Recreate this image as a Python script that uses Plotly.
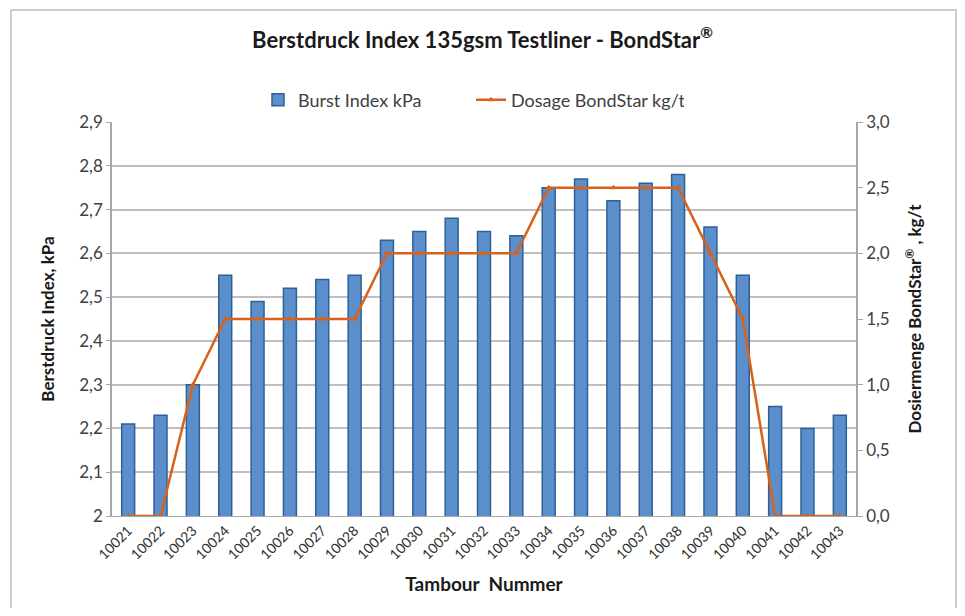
import plotly.graph_objects as go

categories = ["10021", "10022", "10023", "10024", "10025", "10026", "10027", "10028",
              "10029", "10030", "10031", "10032", "10033", "10034", "10035", "10036",
              "10037", "10038", "10039", "10040", "10041", "10042", "10043"]
burst_index = [2.21, 2.23, 2.30, 2.55, 2.49, 2.52, 2.54, 2.55, 2.63, 2.65, 2.68, 2.65,
               2.64, 2.75, 2.77, 2.72, 2.76, 2.78, 2.66, 2.55, 2.25, 2.20, 2.23]
dosage = [0.0, 0.0, 1.0, 1.5, 1.5, 1.5, 1.5, 1.5, 2.0, 2.0, 2.0, 2.0, 2.0,
          2.5, 2.5, 2.5, 2.5, 2.5, 2.0, 1.5, 0.0, 0.0, 0.0]
left_ticks = [2.0, 2.1, 2.2, 2.3, 2.4, 2.5, 2.6, 2.7, 2.8, 2.9]
left_ticktext = ["2", "2,1", "2,2", "2,3", "2,4", "2,5", "2,6", "2,7", "2,8", "2,9"]
right_ticks = [0.0, 0.5, 1.0, 1.5, 2.0, 2.5, 3.0]

FONT = "Lato, 'Open Sans', sans-serif"
BLUE = "#5B8FCC"
BLUE_EDGE = "#2F5F98"
ORANGE = "#D9621A"

# page body has an 8px margin; figure sized to fit the window
OFF = 8
W, H = 949, 600
L, T = 112 - OFF, 122 - OFF
R = W - (856 - OFF)
B = H - (516 - OFF)
pw, ph = W - L - R, H - T - B

def px(s):
    return (s - OFF - L) / pw

def py(s):
    return (H - B - (s - OFF)) / ph

fig = go.Figure()
fig.add_trace(go.Bar(
    x=categories, y=burst_index, name="Burst Index kPa",
    marker=dict(color=BLUE, line=dict(color=BLUE_EDGE, width=1.5)),
    width=0.4, base=0,
))
fig.add_trace(go.Scatter(
    x=categories, y=dosage, name="Dosage BondStar kg/t", yaxis="y2",
    mode="lines+markers",
    line=dict(color=ORANGE, width=2.5),
    marker=dict(symbol="triangle-up", size=6, color=ORANGE),
))

fig.update_layout(
    width=W, height=H,
    margin=dict(l=L, r=R, t=T, b=B, autoexpand=False),
    paper_bgcolor="white", plot_bgcolor="white",
    font=dict(family=FONT, size=16, color="#404040"),
    separators=",.",
    title=dict(text="<b>Berstdruck Index 135gsm Testliner - BondStar<sup>®</sup></b>",
               x=0.5, xanchor="center", y=1 - (40 - OFF) / H, yanchor="middle",
               font=dict(size=22, color="#1a1a1a", family=FONT)),
    legend=dict(orientation="h", x=px(258), xanchor="left", y=py(100), yanchor="middle",
                font=dict(size=18, color="#404040"), bgcolor="rgba(0,0,0,0)",
                entrywidth=168, tracegroupgap=0),
    showlegend=True,
    xaxis=dict(
        type="category", tickangle=-45, tickfont=dict(size=14, color="#303030"),
        showgrid=False, showline=True, linecolor="#A6A6A6", linewidth=1,
        ticks="", title=dict(text="<b>Tambour  Nummer</b>", font=dict(size=19, color="#1a1a1a"),
                             standoff=16),
        range=[-0.5, len(categories) - 0.5],
    ),
    yaxis=dict(
        range=[2.0, 2.9], tickvals=left_ticks, ticktext=left_ticktext,
        showgrid=True, gridcolor="#BFBFBF", gridwidth=1.5,
        showline=True, linecolor="#A6A6A6", linewidth=1.5,
        ticks="outside", ticklen=4, tickcolor="#A6A6A6",
        tickfont=dict(size=17, color="#404040"),
        title=dict(text="<b>Berstdruck Index, kPa</b>", font=dict(size=17, color="#1a1a1a"),
                   standoff=20),
        zeroline=False,
    ),
    yaxis2=dict(
        range=[0, 3.0], tickvals=right_ticks, tickformat=".1f", overlaying="y", side="right",
        showgrid=False, showline=True, linecolor="#A6A6A6", linewidth=1.5,
        ticks="outside", ticklen=5, tickcolor="#A6A6A6",
        tickfont=dict(size=17, color="#404040"),
        title=dict(text="<b>Dosiermenge BondStar<sup>®</sup> , kg/t</b>",
                   font=dict(size=17, color="#1a1a1a"), standoff=20),
        zeroline=False,
    ),
    shapes=[dict(type="rect", xref="paper", yref="paper",
                 x0=px(11), x1=(W - 1 - L) / pw, y0=(B - H + 1) / ph, y1=py(10),
                 line=dict(color="#BDBDBD", width=1.5), fillcolor="rgba(0,0,0,0)",
                 layer="below")],
)

fig.write_html("out.html")
